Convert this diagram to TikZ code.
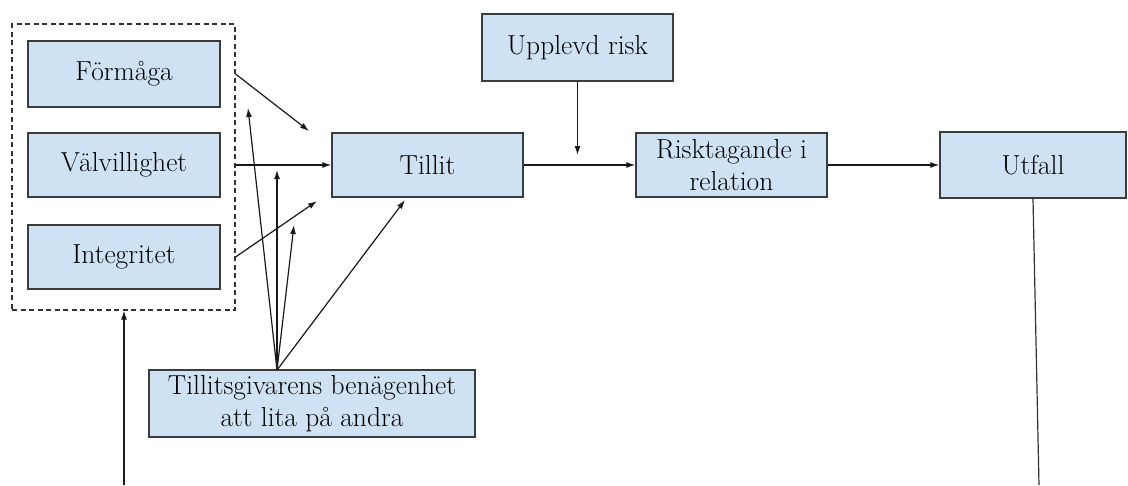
\documentclass[tikz,border=0pt]{standalone}
\usepackage{fontspec}
\usetikzlibrary{arrows.meta}
\definecolor{boxfill}{HTML}{CFE2F3}
\definecolor{boxline}{HTML}{3C3C3C}
\tikzset{
  box/.style={draw=boxline, fill=boxfill, line width=1.4pt, inner sep=0pt,
    align=center, font=\fontsize{27.5}{32}\selectfont, text=black},
  group/.style={draw=black!80, dashed, dash pattern=on 5pt off 3.5pt, line width=1.1pt, inner sep=0pt},
  link/.style={line width=1.2pt, draw=black!90, -{Latex[length=9pt,width=6pt]}},
  plainlink/.style={line width=1.2pt, draw=black!80}
}
\begin{document}
\begin{tikzpicture}[x=1pt,y=-1pt]
    \useasboundingbox (0,0) rectangle (1128,485);
    \node[box, minimum width=192pt, minimum height=66pt] at (124,74) (formaga) {Förmåga};
    \node[box, minimum width=192pt, minimum height=64pt] at (124,165) (valv) {Välvillighet};
    \node[box, minimum width=192pt, minimum height=64pt] at (124,257) (integ) {Integritet};
    \node[group, minimum width=223pt, minimum height=286pt] at (123.5,167) (grp) {};
    \node[box, minimum width=191pt, minimum height=64pt] at (427.5,165) (tillit) {Tillit};
    \node[box, minimum width=191pt, minimum height=67pt] at (577.5,47.5) (risk) {Upplevd risk};
    \node[box, minimum width=191pt, minimum height=64pt] at (731.5,165) (risktag) {Risktagande i\\relation};
    \node[box, minimum width=186pt, minimum height=66pt] at (1033,165) (utfall) {Utfall};
    \node[box, minimum width=326pt, minimum height=67pt] at (312,403.5) (benag) {Tillitsgivarens benägenhet\\att lita på andra};
    % free ends
    \coordinate (f1) at (309,131);
    \coordinate (f2) at (317,201);
    \coordinate (b1) at (248,108);
    \coordinate (b2) at (277,170);
    \coordinate (b3) at (294,225);
    \coordinate (b4) at (405,200);
    \coordinate (r1) at (577.5,155);
    \coordinate (low) at (124,485);
    \coordinate (utend) at (1039,485);
    \coordinate (src) at (277,370);
    \draw[link] (grp.east |- formaga) -- (f1);
    \draw[link] (grp.east |- valv) -- (tillit.west);
    \draw[link] (grp.east |- integ) -- (f2);
    \draw[link] (src) -- (b1);
    \draw[link] (src) -- (b2);
    \draw[link] (src) -- (b3);
    \draw[link] (src) -- (b4);
    \draw[link] (tillit.east) -- (risktag.west);
    \draw[link] (risk.south) -- (r1);
    \draw[link] (risktag.east) -- (utfall.west);
    \draw[link] (low) -- (grp.south -| low);
    \draw[plainlink] (utfall.south) -- (utend);
  \end{tikzpicture}
\end{document}
